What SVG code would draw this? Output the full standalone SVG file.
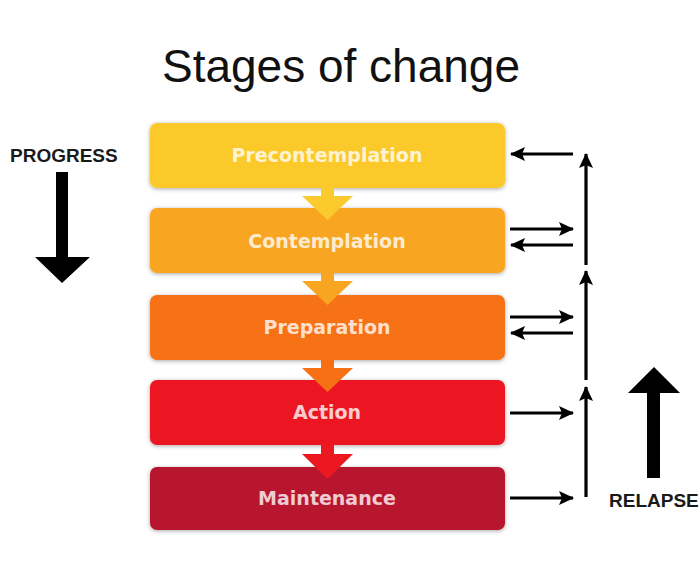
<svg xmlns="http://www.w3.org/2000/svg" width="700" height="577" viewBox="0 0 700 577">
<defs>
<filter id="sh" x="-10%" y="-20%" width="120%" height="150%">
<feDropShadow dx="0" dy="1" stdDeviation="2" flood-color="#000" flood-opacity="0.35"/>
</filter>
<marker id="ah" viewBox="0 0 15 14" refX="14" refY="7" markerWidth="15" markerHeight="14" markerUnits="userSpaceOnUse" orient="auto">
<path d="M0,0 L15,7 L0,14 L3,7 Z" fill="#000"/>
</marker>
<style>
.box{filter:url(#sh)}
.lbl{font-family:"DejaVu Sans",Verdana,sans-serif;font-weight:bold;font-size:19px;fill:#fff;fill-opacity:0.8;text-anchor:middle}
.side{font-family:"Liberation Sans",Arial,sans-serif;font-weight:bold;font-size:19px;fill:#1a1a1a}
.c{stroke:#000;stroke-width:3.2;fill:none;marker-end:url(#ah)}
</style>
</defs>
<rect width="700" height="577" fill="#fff"/>
<text x="341" y="82" font-family="'Liberation Sans',Arial,sans-serif" font-size="46" text-anchor="middle" fill="#111">Stages of change</text>

<g id="progress">
<text class="side" x="10" y="162">PROGRESS</text>
<path d="M56,172 H68 V257 H90 L62,283 L35,257 H56 Z" fill="#000"/>
</g>
<g id="relapse">
<text class="side" x="609" y="507">RELAPSE</text>
<path d="M647,478 H660 V393 H680 L654,367 L628,393 H647 Z" fill="#000"/>
</g>

<g id="precontemplation">
<rect class="box" x="150" y="123" width="355" height="65" rx="7" fill="#FBCA2C"/>
<text class="lbl" x="327" y="162">Precontemplation</text>
</g>
<g id="contemplation">
<rect class="box" x="150" y="208" width="355" height="65" rx="7" fill="#F8A521"/>
<text class="lbl" x="327" y="248">Contemplation</text>
</g>
<g id="preparation">
<rect class="box" x="150" y="295" width="355" height="65" rx="7" fill="#F77114"/>
<text class="lbl" x="327" y="334">Preparation</text>
</g>
<g id="action">
<rect class="box" x="150" y="380" width="355" height="65" rx="7" fill="#EC1821"/>
<text class="lbl" x="327" y="419">Action</text>
</g>
<g id="maintenance">
<rect class="box" x="150" y="467" width="355" height="63" rx="7" fill="#B7132E"/>
<text class="lbl" x="327" y="505">Maintenance</text>
</g>

<g id="flow-arrows">
<path d="M321,186 H334 V196 H353 L327.5,220 L302,196 H321 Z" fill="#FBCA2C"/>
<path d="M321,271 H334 V281 H353 L327.5,305 L302,281 H321 Z" fill="#F8A521"/>
<path d="M321,358 H334 V368 H353 L327.5,392 L302,368 H321 Z" fill="#F77114"/>
<path d="M321,443 H334 V454 H353 L327.5,479 L302,454 H321 Z" fill="#EC1821"/>
</g>

<g id="connectors">
<line class="c" x1="573" y1="154" x2="511" y2="154"/>
<line class="c" x1="510" y1="229" x2="573" y2="229"/>
<line class="c" x1="573" y1="245" x2="511" y2="245"/>
<line class="c" x1="510" y1="317" x2="573" y2="317"/>
<line class="c" x1="573" y1="333" x2="511" y2="333"/>
<line class="c" x1="510" y1="413" x2="573" y2="413"/>
<line class="c" x1="510" y1="498" x2="573" y2="498"/>
<line class="c" x1="586" y1="265" x2="586" y2="154"/>
<line class="c" x1="586" y1="380" x2="586" y2="271"/>
<line class="c" x1="586" y1="497" x2="586" y2="387" stroke-width="2.6"/>
</g>
</svg>
